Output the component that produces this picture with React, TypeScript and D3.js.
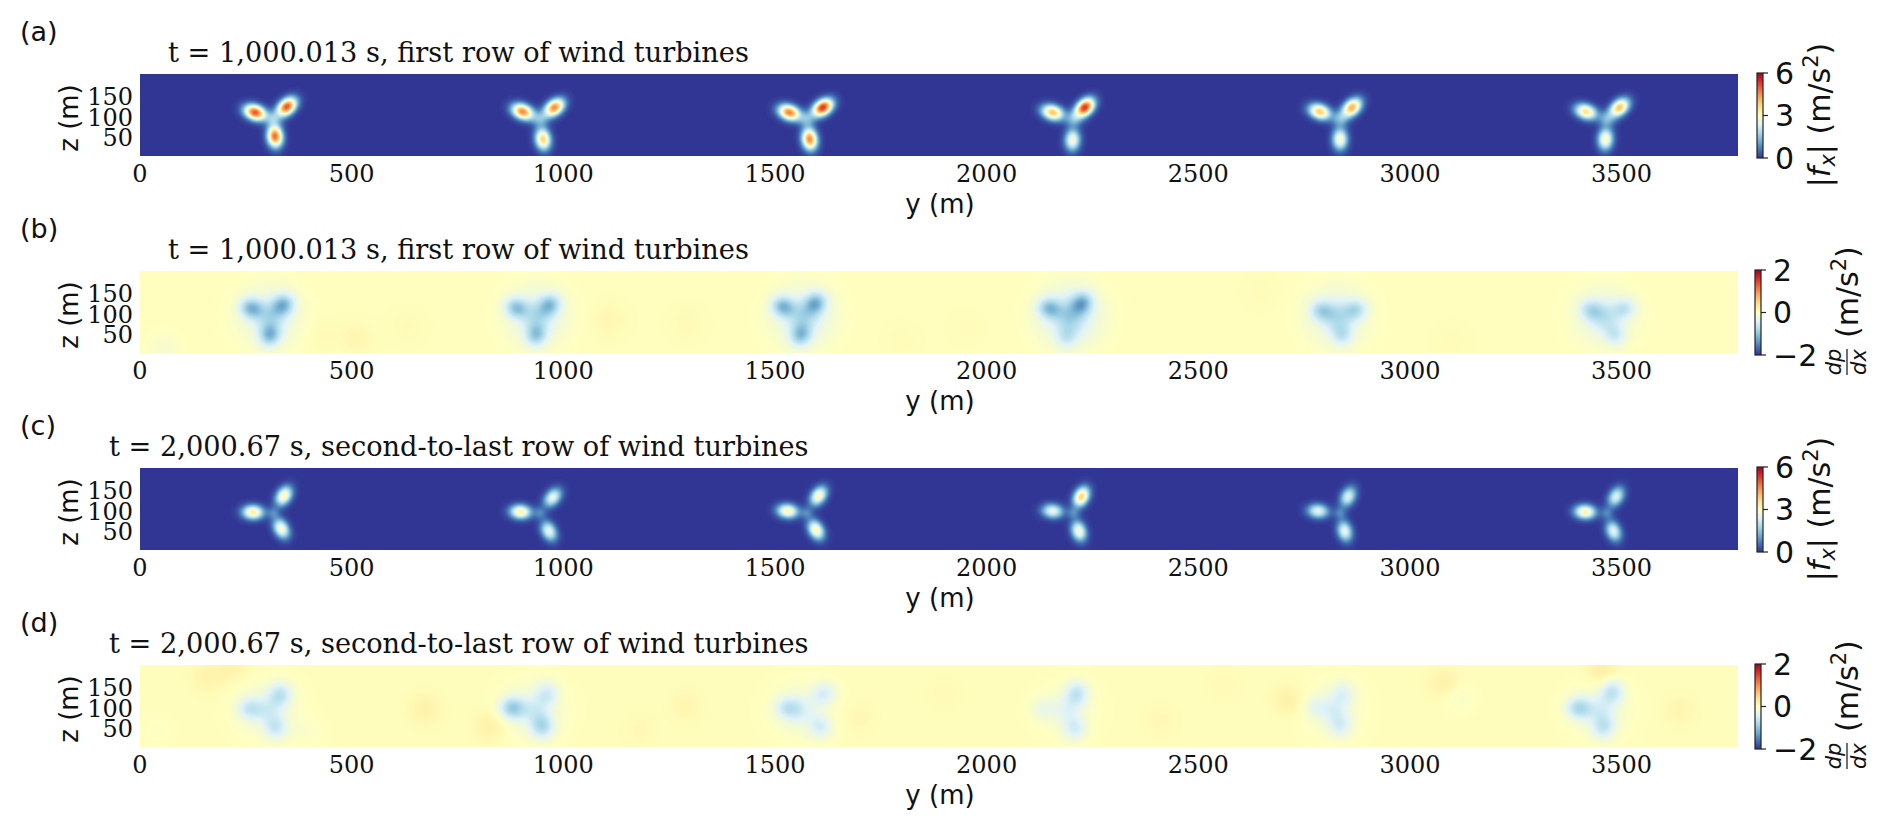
import * as d3 from "d3";

// hub positions of the six turbines (m)
const turbineY = [315, 945, 1575, 2205, 2835, 3465];
const hubZ = 90;

const xTicks = [0, 500, 1000, 1500, 2000, 2500, 3000, 3500];
const zTicks = [50, 100, 150];

// RdYlBu_r
const cmapColors = ["#313695", "#4575b4", "#74add1", "#abd9e9", "#e0f3f8", "#ffffbf", "#fee090", "#fdae61", "#f46d43", "#d73027", "#a50026"];

// (a) blade force peaks: left, right, bottom of each turbine
const aBladeY = [272, 347, 319, 904, 979, 952, 1534, 1613, 1582, 2156, 2232, 2203, 2787, 2863, 2835, 3416, 3495, 3462];
const aBladeZ = [106, 120, 48, 108, 118, 41, 106, 118, 41, 106, 118, 39, 108, 118, 41, 108, 118, 41];
const aBladeAmp = [5.1, 5.1, 4.9, 4.6, 4.6, 3.8, 4.7, 5.4, 4.6, 4, 5.4, 2.9, 3.9, 4.2, 3, 3.6, 4, 3.1];

// (b) pressure gradient troughs
const bBladeY = [263, 338, 307, 889, 968, 936, 1519, 1596, 1561, 2148, 2225, 2190, 2791, 2871, 2840, 3427, 3507, 3484];
const bBladeZ = [109, 117, 44, 110, 117, 44, 113, 121, 44, 109, 121, 40, 103, 105, 45, 105, 108, 45];
const bBladeAmp = [-0.95, -0.95, -0.95, -0.85, -0.85, -0.8, -0.95, -0.95, -0.85, -0.85, -0.95, -0.4, -0.6, -0.6, -0.5, -0.5, -0.5, -0.45];
const bHaloAmp = [-0.33, -0.33, -0.38, -0.5, -0.33, -0.28];
const bSpotY = [427, 510, 632, 1108, 1292, 58, 2650, 1950, 3100, 1800];
const bSpotZ = [44, 36, 64, 80, 72, 12, 150, 60, 30, 30];
const bSpotAmp = [0.06, 0.1, 0.05, 0.1, 0.06, -0.12, 0.04, 0.03, 0.04, 0.04];

// (c) blade force peaks, later time
const cBladeY = [267, 340, 334, 899, 975, 966, 1530, 1603, 1597, 2156, 2224, 2218, 2783, 2854, 2846, 3414, 3487, 3481];
const cBladeZ = [92, 132, 52, 93, 128, 46, 95, 132, 49, 95, 130, 46, 95, 130, 46, 93, 130, 46];
const cBladeAmp = [3.4, 3.2, 3, 3.3, 2.6, 2.6, 3.2, 3.1, 3.2, 2.6, 3.8, 2.9, 2.5, 2.4, 2.6, 3.3, 2.4, 2.5];

// (d) pressure gradient troughs, later time
const dBladeY = [259, 331, 321, 880, 961, 950, 1530, 1616, 1607, 2134, 2213, 2208, 2778, 2841, 2835, 3400, 3478, 3457];
const dBladeZ = [94, 127, 48, 95, 129, 51, 95, 130, 50, 93, 130, 45, 98, 130, 53, 95, 134, 49];
const dBladeAmp = [-0.5, -0.6, -0.5, -0.85, -0.45, -0.7, -0.5, -0.45, -0.45, -0.25, -0.6, -0.45, -0.25, -0.35, -0.4, -0.75, -0.6, -0.55];
const dHaloAmp = [-0.2, -0.22, -0.18, -0.12, -0.15, -0.18];
const dSpotY = [160, 219, 674, 828, 398, 44, 3083, 2714, 3454, 3636, 2413, 3115, 1290, 1700, 1900, 1180, 2560];
const dSpotZ = [170, 196, 93, 52, 36, 40, 154, 114, 186, 90, 65, 122, 100, 70, 130, 40, 150];
const dSpotAmp = [0.12, 0.14, 0.14, 0.16, -0.08, -0.06, 0.16, 0.16, 0.2, 0.1, 0.06, -0.12, 0.09, 0.07, 0.05, 0.06, 0.05];

interface Blob {
    y: number;
    z: number;
    amp: number;
    su: number;
    sv: number;
    angle: number;
}

const bladeBlobs = (ys: number[], zs: number[], amps: number[], su: number, sv: number): Blob[] =>
    ys.map((y, i) => ({
        y,
        z: zs[i],
        amp: amps[i],
        su,
        sv,
        angle: Math.atan2(zs[i] - hubZ, y - turbineY[Math.floor(i / 3)]),
    }));

const roundBlobs = (ys: number[], zs: number[], amps: number[], s: number): Blob[] =>
    ys.map((y, i) => ({ y, z: zs[i], amp: amps[i], su: s, sv: s, angle: 0 }));

const hubs = (amp: number) => turbineY.map(() => amp);

const width = 1892;
const height = 829;
const plotLeft = 140;
const plotRight = 1738;
const plotHeight = 82;
const yMax = 3775;
const zMax = 200;
const gridStep = 5;

const x = d3.scaleLinear().domain([0, yMax]).range([plotLeft, plotRight]);

interface PanelDef {
    label: string;
    top: number;
    title: string;
    titleX: number;
    base: number;
    domain: [number, number];
    cbarTicks: number[];
    cbarX: number;
    blobs: Blob[];
}

const titleA = "t = 1,000.013 s, first row of wind turbines";
const titleC = "t = 2,000.67 s, second-to-last row of wind turbines";

const panels: PanelDef[] = [
    {
        label: "(a)", top: 74, title: titleA, titleX: 168, base: 0, domain: [0, 6], cbarTicks: [0, 3, 6], cbarX: 1757,
        blobs: [
            ...bladeBlobs(aBladeY, aBladeZ, aBladeAmp, 18, 12),
            ...roundBlobs(turbineY, turbineY.map(() => hubZ), hubs(1.1), 13),
        ],
    },
    {
        label: "(b)", top: 271, title: titleA, titleX: 168, base: 0.015, domain: [-2, 2], cbarTicks: [-2, 0, 2], cbarX: 1755,
        blobs: [
            ...bladeBlobs(bBladeY, bBladeZ, bBladeAmp, 19, 17),
            ...roundBlobs(turbineY.map((t) => t - 8), turbineY.map(() => hubZ), bHaloAmp, 50),
            ...roundBlobs(turbineY.map((t) => t - 8), turbineY.map(() => hubZ), hubs(-0.4), 24),
            ...roundBlobs(bSpotY, bSpotZ, bSpotAmp, 28),
        ],
    },
    {
        label: "(c)", top: 468, title: titleC, titleX: 109, base: 0, domain: [0, 6], cbarTicks: [0, 3, 6], cbarX: 1757,
        blobs: [
            ...bladeBlobs(cBladeY, cBladeZ, cBladeAmp, 17, 11.5),
            ...roundBlobs(turbineY, turbineY.map(() => hubZ), hubs(0.7), 10),
        ],
    },
    {
        label: "(d)", top: 665, title: titleC, titleX: 109, base: 0.03, domain: [-2, 2], cbarTicks: [-2, 0, 2], cbarX: 1755,
        blobs: [
            ...bladeBlobs(dBladeY, dBladeZ, dBladeAmp, 21, 19),
            ...roundBlobs(turbineY.map((t) => t - 15), turbineY.map(() => hubZ), dHaloAmp, 50),
            ...roundBlobs(turbineY.map((t) => t - 15), turbineY.map(() => hubZ), hubs(-0.25), 22),
            ...roundBlobs(dSpotY, dSpotZ, dSpotAmp, 26),
        ],
    },
];

const colorFor = (domain: [number, number]) =>
    d3.scaleLinear<string>()
        .domain(d3.range(cmapColors.length).map((i) => domain[0] + (i / (cmapColors.length - 1)) * (domain[1] - domain[0])))
        .range(cmapColors)
        .clamp(true);

// field on a regular grid, summed from the blobs
const buildGrid = (p: PanelDef) => {
    const nx = Math.ceil(yMax / gridStep) + 2;
    const nz = Math.ceil(zMax / gridStep) + 2;
    const values = new Array<number>(nx * nz).fill(p.base);
    p.blobs.forEach((b) => {
        const c = Math.cos(b.angle);
        const s = Math.sin(b.angle);
        const reach = Math.max(b.su, b.sv) * 4;
        for (let j = 0; j < nz; j++) {
            const zv = j * gridStep;
            if (Math.abs(zv - b.z) > reach) continue;
            const i0 = Math.max(0, Math.floor((b.y - reach) / gridStep));
            const i1 = Math.min(nx - 1, Math.ceil((b.y + reach) / gridStep));
            for (let i = i0; i <= i1; i++) {
                const dy = i * gridStep - b.y;
                const dz = zv - b.z;
                const u = dy * c + dz * s;
                const v = -dy * s + dz * c;
                values[i + j * nx] += b.amp * Math.exp(-0.5 * ((u * u) / (b.su * b.su) + (v * v) / (b.sv * b.sv)));
            }
        }
    });
    return { values, nx, nz };
};

const Heatmap = ({ p, idx }: { p: PanelDef; idx: number }) => {
    const z = d3.scaleLinear().domain([0, zMax]).range([p.top + plotHeight, p.top]);
    const color = colorFor(p.domain);
    const { values, nx, nz } = buildGrid(p);
    const [lo, hi] = d3.extent(values) as [number, number];
    const step = (p.domain[1] - p.domain[0]) / 200;
    const thresholds = d3.range(p.domain[0], p.domain[1], step).filter((t) => t > lo && t < hi);
    const bands = d3.contours().size([nx, nz]).thresholds(thresholds)(values);
    const path = d3.geoPath(
        d3.geoTransform({
            point(px: number, py: number) {
                this.stream.point(x((px - 0.5) * gridStep), z((py - 0.5) * gridStep));
            },
        })
    );
    return (
        <g clipPath={`url(#plot-${idx})`}>
            <clipPath id={`plot-${idx}`}>
                <rect x={plotLeft} y={p.top} width={plotRight - plotLeft} height={plotHeight} />
            </clipPath>
            <rect x={plotLeft} y={p.top} width={plotRight - plotLeft} height={plotHeight} fill={color(lo)} />
            {bands.map((b) => (
                <path key={b.value} d={path(b as any) ?? ""} fill={color(b.value + step / 2)} />
            ))}
        </g>
    );
};

const Colorbar = ({ p, idx }: { p: PanelDef; idx: number }) => {
    const cbW = 6;
    const scale = d3.scaleLinear().domain(p.domain).range([p.top + 84, p.top - 1]);
    const color = colorFor(p.domain);
    const stops = d3.range(0, 41).map((i) => i / 40);
    return (
        <g>
            <defs>
                <linearGradient id={`cbar-${idx}`} x1="0" y1="1" x2="0" y2="0">
                    {stops.map((s) => (
                        <stop key={s} offset={s} stopColor={color(p.domain[0] + s * (p.domain[1] - p.domain[0]))} />
                    ))}
                </linearGradient>
            </defs>
            <rect x={p.cbarX} y={scale(p.domain[1])} width={cbW} height={scale(p.domain[0]) - scale(p.domain[1])}
                fill={`url(#cbar-${idx})`} stroke="#222" strokeWidth={1.2} />
            {p.cbarTicks.map((t) => (
                <g key={t}>
                    <line x1={p.cbarX + cbW} x2={p.cbarX + cbW + 5} y1={scale(t)} y2={scale(t)} stroke="#222" strokeWidth={1.2} />
                    <text x={p.cbarX + cbW + 12} y={scale(t)} dy="0.36em" fontFamily="DejaVu Sans" fontSize={30} fill="#111">
                        {t < 0 ? `\u2212${-t}` : t}
                    </text>
                </g>
            ))}
        </g>
    );
};

const ForceLabel = ({ top }: { top: number }) => (
    <text transform={`translate(1830,${top + 41}) rotate(-90)`} textAnchor="middle" fontFamily="DejaVu Sans" fontSize={30} fill="#111">
        |<tspan fontStyle="italic">f</tspan>
        <tspan fontStyle="italic" fontSize={21} dy={5}>x</tspan>
        <tspan dy={-5}>| (m/s</tspan>
        <tspan fontSize={21} dy={-12}>2</tspan>
        <tspan dy={12}>)</tspan>
    </text>
);

const GradLabel = ({ top }: { top: number }) => (
    <g fontFamily="DejaVu Sans" fill="#111">
        <g transform={`translate(1847,${top + 91}) rotate(-90)`} textAnchor="middle" fontStyle="italic" fontSize={21}>
            <text y={-6}>dp</text>
            <text y={19}>dx</text>
            <line x1={-13} x2={13} y1={0} y2={0} stroke="#111" strokeWidth={1.2} />
        </g>
        <text transform={`translate(1858,${top + 67}) rotate(-90)`} fontSize={30}>
            (m/s
            <tspan fontSize={21} dy={-12}>2</tspan>
            <tspan dy={12}>)</tspan>
        </text>
    </g>
);

export default function App() {
    return (
        <svg width={width} height={height} viewBox={`0 0 ${width} ${height}`}
            style={{ position: "absolute", left: 0, top: 0, background: "white" }}>
            {panels.map((p, i) => {
                const z = d3.scaleLinear().domain([0, zMax]).range([p.top + plotHeight, p.top]);
                return (
                    <g key={p.label}>
                        <text x={20} y={p.top - 33} fontFamily="DejaVu Sans" fontSize={27} fill="#111">{p.label}</text>
                        <text x={p.titleX} y={p.top - 12} fontFamily="DejaVu Serif" fontSize={27.2} fill="#111">{p.title}</text>
                        <Heatmap p={p} idx={i} />
                        {xTicks.map((t) => (
                            <text key={t} x={x(t)} y={p.top + plotHeight + 26} textAnchor="middle"
                                fontFamily="DejaVu Serif" fontSize={24} fill="#111">{t}</text>
                        ))}
                        {zTicks.map((t) => (
                            <text key={t} x={plotLeft - 7} y={z(t)} dy="0.45em" textAnchor="end"
                                fontFamily="DejaVu Serif" fontSize={24} fill="#111">{t}</text>
                        ))}
                        <text x={940} y={p.top + 139} textAnchor="middle" fontFamily="DejaVu Sans" fontSize={26} fill="#111">y (m)</text>
                        <text transform={`translate(78,${p.top + 44}) rotate(-90)`} textAnchor="middle"
                            fontFamily="DejaVu Sans" fontSize={26} fill="#111">z (m)</text>
                        <Colorbar p={p} idx={i} />
                        {p.domain[0] === 0 ? <ForceLabel top={p.top} /> : <GradLabel top={p.top} />}
                    </g>
                );
            })}
        </svg>
    );
}
